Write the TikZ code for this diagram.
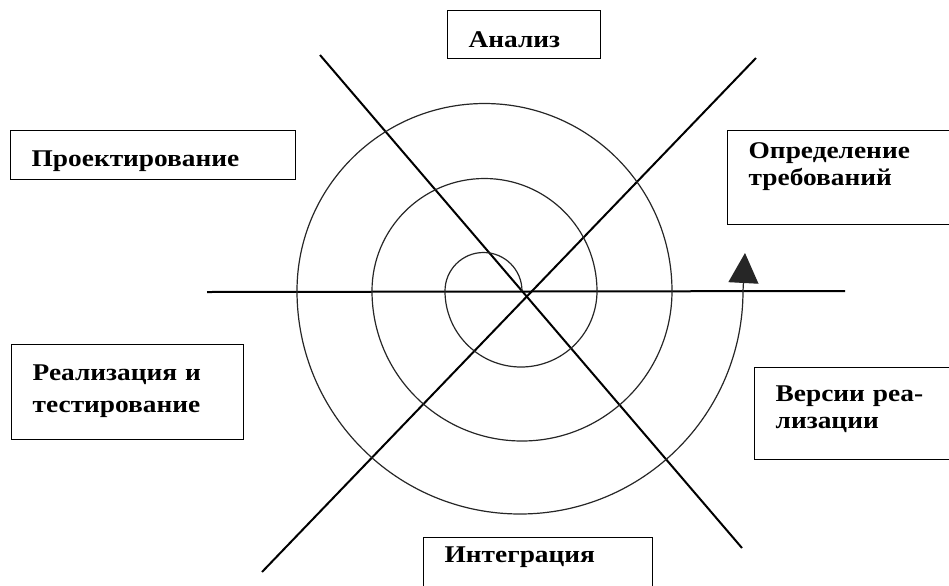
\documentclass[tikz,border=0pt]{standalone}
\usepackage{fontspec}
\setmainfont{Liberation Serif}[FakeStretch=1.14]
\usetikzlibrary{arrows.meta}

\begin{document}
\begin{tikzpicture}[x=0.5pt, y=-0.5pt,
  stage/.style={draw, line width=0.7pt, anchor=north west, align=left, inner xsep=10.5pt, inner ysep=2pt,
    font=\fontsize{12}{13.5}\selectfont\bfseries},
  axis/.style={line width=1pt},
  spiral/.style={line width=0.6pt, black!85, -{Triangle[length=15pt, width=15pt]}},
  ]
\useasboundingbox (0,0) rectangle (949,585);
\clip (0,0) rectangle (949,585);
\node[stage, text width=55.5pt, text height=16.5pt, text depth=3.5pt] (1) at (447,10) {Анализ};
\node[stage, text width=121.5pt, text height=16pt, text depth=4.5pt] (2) at (10,130) {Проектирование};
\node[stage, text width=99pt, text height=12pt, text depth=31pt] (3) at (727,130) {Определение\\требований};
\node[stage, text width=95pt, text height=16pt, text depth=27.5pt] (4) at (11,344) {Реализация и\\[2.5pt]тестирование};
\node[stage, text width=89pt, text height=15pt, text depth=27pt] (5) at (754,367) {Версии реа-\\лизации};
\node[stage, text width=93.5pt, text height=10.5pt, text depth=30pt] (6) at (423,537) {Интеграция};
\coordinate (o) at (522,291);
\coordinate (w) at (207,292);
\coordinate (e) at (845,291);
\coordinate (nw) at (320,55);
\coordinate (se) at (742,548);
\coordinate (ne) at (756,58);
\coordinate (sw) at (262,572);
\coordinate (tip) at (745,253);
\draw[axis] (w)--(e);
\draw[axis] (nw)--(se);
\draw[axis] (ne)--(sw);
\draw[spiral] (o) arc[start angle=0, end angle=-180, radius=38.5]
  arc[start angle=180, end angle=0, radius=76]
  arc[start angle=0, end angle=-180, radius=112.5]
  arc[start angle=180, end angle=0, radius=150]
  arc[start angle=0, end angle=-180, radius=187.5]
  arc[start angle=180, end angle=0, radius=223]--(tip);
\end{tikzpicture}
\end{document}
